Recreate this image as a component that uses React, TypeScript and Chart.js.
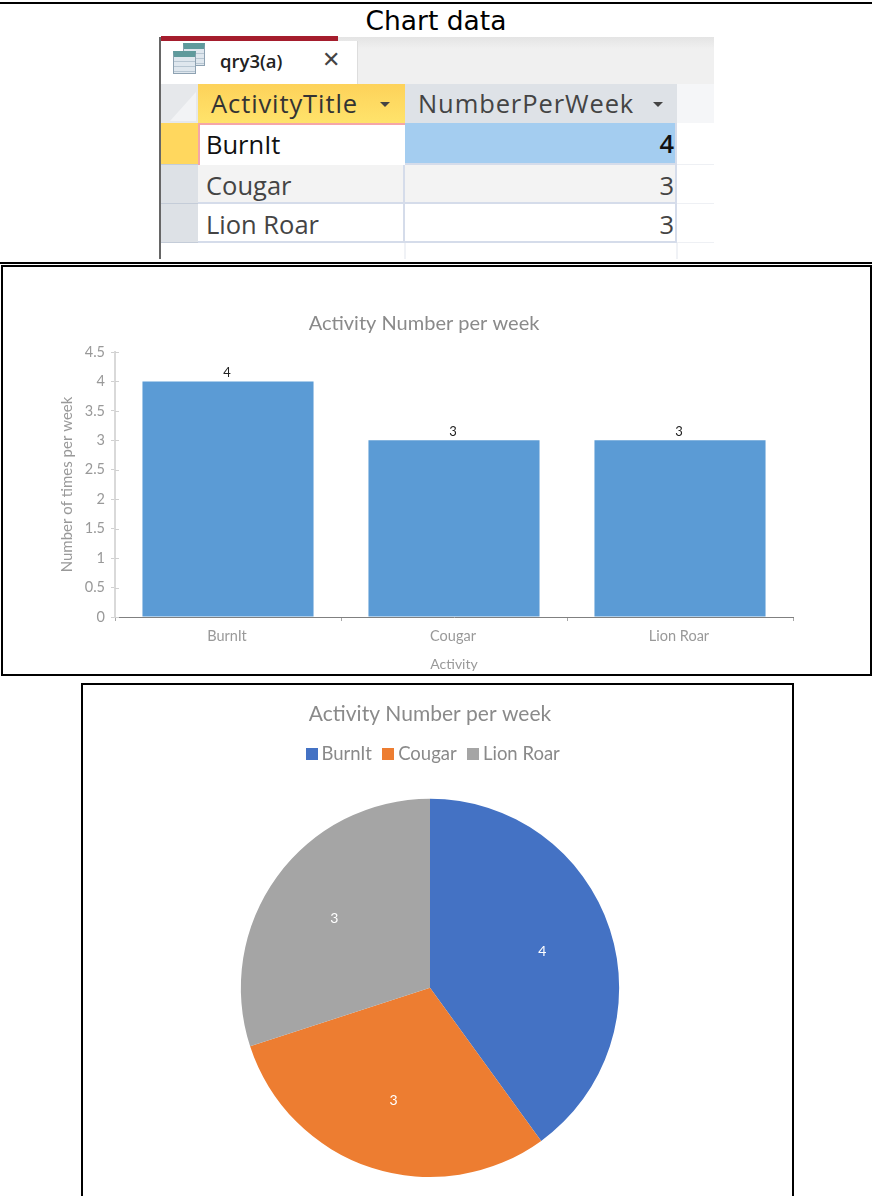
import React, { useEffect, useRef } from "react";
import { Chart, registerables } from "chart.js";

Chart.register(...registerables);

const categories = ["BurnIt", "Cougar", "Lion Roar"];
const numberPerWeek = [4, 3, 3];
const barColor = "#5b9bd5";
const pieColors = ["#4472c4", "#ed7d31", "#a5a5a5"];
const chartTitle = "Activity Number per week";
const xAxisTitle = "Activity";
const yAxisTitle = "Number of times per week";
const pageTitle = "Chart data";
const tableTabName = "qry3(a)";
const tableColumns = ["ActivityTitle", "NumberPerWeek"];

const FONT = "Lato";

const barLabels = {
  id: "barLabels",
  afterDatasetsDraw(chart: any) {
    const ctx = chart.ctx;
    const meta = chart.getDatasetMeta(0);
    ctx.save();
    ctx.font = `13px ${FONT}`;
    ctx.fillStyle = "#222";
    ctx.textAlign = "center";
    ctx.textBaseline = "middle";
    meta.data.forEach((el: any, i: number) => {
      ctx.fillText(String(chart.data.datasets[0].data[i]), el.x - 1, el.y - 9);
    });
    ctx.restore();
    // y-axis tick marks cross the axis line
    const y = chart.scales.y;
    ctx.save();
    ctx.strokeStyle = "#d0d0d0";
    ctx.lineWidth = 1;
    y.ticks.forEach((_: any, i: number) => {
      const py = Math.round(y.getPixelForTick(i)) + 0.5;
      ctx.beginPath();
      ctx.moveTo(y.right, py);
      ctx.lineTo(y.right + 4, py);
      ctx.stroke();
    });
    ctx.restore();
  },
};

const pieLabels = {
  id: "pieLabels",
  afterDatasetsDraw(chart: any) {
    const ctx = chart.ctx;
    const meta = chart.getDatasetMeta(0);
    ctx.save();
    ctx.font = `14px ${FONT}`;
    ctx.fillStyle = "#fff";
    ctx.textAlign = "center";
    ctx.textBaseline = "middle";
    meta.data.forEach((el: any, i: number) => {
      const p = el.getProps(["x", "y", "startAngle", "endAngle", "outerRadius"], true);
      const mid = (p.startAngle + p.endAngle) / 2;
      const r = p.outerRadius * 0.625;
      ctx.fillText(
        String(chart.data.datasets[0].data[i]),
        p.x + Math.cos(mid) * r,
        p.y + Math.sin(mid) * r
      );
    });
    ctx.restore();
  },
};

const legendGap = {
  id: "legendGap",
  beforeInit(chart: any) {
    const originalFit = chart.legend.fit;
    chart.legend.fit = function fit() {
      originalFit.call(this);
      this.height += 25;
    };
  },
  afterLayout(chart: any) {
    chart.legend.left += 11;
  },
};

function swatch(color: string) {
  const c = document.createElement("canvas");
  c.width = 12;
  c.height = 12;
  const g = c.getContext("2d")!;
  g.fillStyle = color;
  g.fillRect(0, 0, 12, 12);
  return c;
}

function BarChart() {
  const ref = useRef<HTMLCanvasElement>(null);
  useEffect(() => {
    const chart = new Chart(ref.current!, {
      type: "bar",
      data: {
        labels: categories,
        datasets: [{ data: numberPerWeek, backgroundColor: barColor, barPercentage: 0.757, categoryPercentage: 1 }],
      },
      plugins: [barLabels],
      options: {
        animation: false,
        responsive: false,
        layout: { padding: { left: 53, right: 77, top: 0, bottom: 2 } },
        plugins: {
          legend: { display: false },
          tooltip: { enabled: false },
          title: {
            display: true,
            text: chartTitle,
            color: "#8a8a8a",
            font: { family: FONT, size: 20, weight: "normal" },
            padding: { top: 45, bottom: 16 },
          },
        },
        scales: {
          x: {
            afterFit: (s: any) => { s.height = 56; },
            grid: { drawOnChartArea: false, color: "#a8a8a8", tickLength: 4 },
            border: { color: "#808080", width: 1 },
            ticks: { color: "#999", font: { family: FONT, size: 14.5 }, padding: 7, maxRotation: 0, labelOffset: -1 },
            title: { display: true, text: xAxisTitle, color: "#999", font: { family: FONT, size: 14 }, padding: { top: 4, bottom: 0 } },
          },
          y: {
            afterFit: (s: any) => { s.width = 60; },
            min: 0,
            max: 4.5,
            grid: { drawOnChartArea: false, color: "#d0d0d0", tickLength: 4 },
            border: { color: "#d9d9d9", width: 2 },
            ticks: {
              stepSize: 0.5,
              color: "#999",
              font: { family: FONT, size: 14.5 },
              padding: 6,
              callback: (v: any) => String(v),
            },
            title: { display: true, text: yAxisTitle, color: "#999", font: { family: FONT, size: 15 }, padding: { top: 3, bottom: 0 } },
          },
        },
      } as any,
    });
    return () => chart.destroy();
  }, []);
  return <canvas ref={ref} width={868} height={408} style={{ position: "absolute", left: 2, top: 267, width: 868, height: 408 }} />;
}

function PieChart() {
  const ref = useRef<HTMLCanvasElement>(null);
  useEffect(() => {
    const chart = new Chart(ref.current!, {
      type: "pie",
      data: {
        labels: categories,
        datasets: [{ data: numberPerWeek, backgroundColor: pieColors, borderWidth: 0 }],
      },
      plugins: [pieLabels, legendGap],
      options: {
        animation: false,
        responsive: false,
        layout: { padding: { left: 0, right: 14, top: 0, bottom: 20 } },
        plugins: {
          tooltip: { enabled: false },
          title: {
            display: true,
            text: chartTitle,
            color: "#8a8a8a",
            font: { family: FONT, size: 21, weight: "normal" },
            padding: { top: 17, bottom: 2 },
          },
          legend: {
            position: "top",
            labels: {
              color: "#8a8a8a",
              font: { family: FONT, size: 18.5 },
              usePointStyle: true,
              pointStyleWidth: 1,
              boxHeight: 12,
              padding: 16,
              generateLabels: (c: any) =>
                (Chart as any).overrides.pie.plugins.legend.labels
                  .generateLabels(c)
                  .map((item: any, i: number) => ({ ...item, pointStyle: swatch(pieColors[i]) })),
            },
          },
        },
      } as any,
    });
    return () => chart.destroy();
  }, []);
  return <canvas ref={ref} width={708} height={512} style={{ position: "absolute", left: 83, top: 685, width: 708, height: 512 }} />;
}

const abs = (left: number, top: number, width: number, height: number, extra: React.CSSProperties = {}): React.CSSProperties => ({
  position: "absolute",
  left,
  top,
  width,
  height,
  boxSizing: "border-box",
  ...extra,
});

const headerText: React.CSSProperties = { fontFamily: "'Open Sans'", fontSize: 25.5, letterSpacing: 0.9, lineHeight: "39px", color: "#333", whiteSpace: "nowrap" };
const rowText: React.CSSProperties = { fontFamily: "'Open Sans'", fontSize: 25.5, lineHeight: "42px", color: "#333", whiteSpace: "nowrap" };
const rowTops = [123, 165, 204];
const rowHeights = [42, 39, 39];
const iconBody = "repeating-linear-gradient(#dfe7ee 0 4px,#b7c6d2 4px 5px)";

function AccessTable() {
  return (
    <>
      <div style={abs(159, 37, 2, 222, { background: "#666" })} />
      <div style={abs(161, 37, 553, 47, { background: "linear-gradient(#e4e4e4,#f0f0f0 25%)" })} />
      <div style={abs(161, 36, 177, 5, { background: "#a51d2d" })} />
      <div style={abs(161, 41, 197, 43, { background: "#fff", borderRight: "1px solid #ddd" })} />
      <div style={abs(183, 43, 22, 23, { background: iconBody, border: "1px solid #8ea2b2", borderTop: "6px solid #5f9a9c" })} />
      <div style={abs(173, 51, 23, 23, { background: iconBody, border: "1px solid #8ea2b2", borderTop: "6px solid #5f9a9c" })} />
      <div style={abs(220, 41, 90, 40, { fontFamily: "'Open Sans'", fontWeight: 600, fontSize: 18.5, lineHeight: "40px", color: "#222" })}>{tableTabName}</div>
      <div style={abs(322, 41, 24, 40, { fontFamily: "'DejaVu Sans'", fontSize: 22, lineHeight: "38px", color: "#444" })}>{"\u2715"}</div>

      <div style={abs(161, 84, 553, 175, { background: "#fff" })} />
      <div style={abs(677, 84, 37, 39, { background: "#f5f6f8" })} />
      <div style={abs(161, 84, 37, 39, { background: "#e6e8eb" })} />
      <div style={abs(170, 92, 26, 29, { background: "#f2f3f5", clipPath: "polygon(100% 0,100% 100%,0 100%)" })} />
      <div style={abs(198, 84, 207, 39, { background: "linear-gradient(#fdd25a,#ffe36b)", ...headerText, paddingLeft: 13 })}>
        {tableColumns[0]}
      </div>
      <div style={abs(380, 102, 10, 5, { background: "#444", clipPath: "polygon(0 0,100% 0,50% 100%)" })} />
      <div style={abs(405, 84, 272, 39, { background: "#dee2e7", ...headerText, paddingLeft: 13, color: "#444" })}>
        {tableColumns[1]}
      </div>
      <div style={abs(653, 102, 10, 5, { background: "#444", clipPath: "polygon(0 0,100% 0,50% 100%)" })} />

      {categories.map((c, i) => (
        <React.Fragment key={c}>
          <div style={abs(161, rowTops[i], 37, rowHeights[i], { background: i === 0 ? "#ffd75e" : "#dde1e6", borderBottom: "1px solid #c4ccd8" })} />
          <div style={abs(677, rowTops[i], 37, rowHeights[i], { borderBottom: "1px solid #eef0f4" })} />
          <div
            style={abs(198, rowTops[i], 207, rowHeights[i], {
              background: i === 1 ? "#f3f3f3" : "#fff",
              border: i === 0 ? "2px solid #f5a6a8" : undefined,
              borderBottom: i === 0 ? undefined : "2px solid #d5dcea",
              borderRight: i === 0 ? undefined : "2px solid #d5dcea",
              ...rowText,
              lineHeight: i === 0 ? "38px" : "40px",
              paddingLeft: i === 0 ? 6 : 8,
              color: i === 0 ? "#111" : "#444",
            })}
          >
            {c}
          </div>
          <div
            style={abs(405, rowTops[i], 272, rowHeights[i], {
              background: i === 0 ? "#a4cdf0" : i === 1 ? "#f3f3f3" : "#fff",
              borderBottom: "2px solid #d5dcea",
              borderRight: "2px solid #d5dcea",
              ...rowText,
              lineHeight: "40px",
              textAlign: "right",
              paddingRight: 1,
              color: i === 0 ? "#111" : "#444",
              fontWeight: i === 0 ? 600 : 400,
            })}
          >
            {numberPerWeek[i]}
          </div>
        </React.Fragment>
      ))}
      <div style={abs(404, 243, 2, 16, { background: "#f0f2f6" })} />
      <div style={abs(676, 243, 2, 16, { background: "#f0f2f6" })} />
    </>
  );
}

export default function App() {
  return (
    <div style={abs(0, 0, 872, 1196, { overflow: "hidden", background: "#fff" })}>
      <div style={abs(0, 2, 872, 2, { background: "#000" })} />
      <div style={abs(0, 6, 872, 30, { fontFamily: "'DejaVu Sans'", fontSize: 26.5, lineHeight: "30px", color: "#000", textAlign: "center" })}>
        {pageTitle}
      </div>
      <AccessTable />

      <div style={abs(0, 262, 872, 2, { background: "#000" })} />
      <div style={abs(1, 265, 871, 411, { border: "2px solid #000" })} />
      <BarChart />

      <div style={abs(81, 683, 713, 530, { border: "2px solid #000" })} />
      <PieChart />
    </div>
  );
}
